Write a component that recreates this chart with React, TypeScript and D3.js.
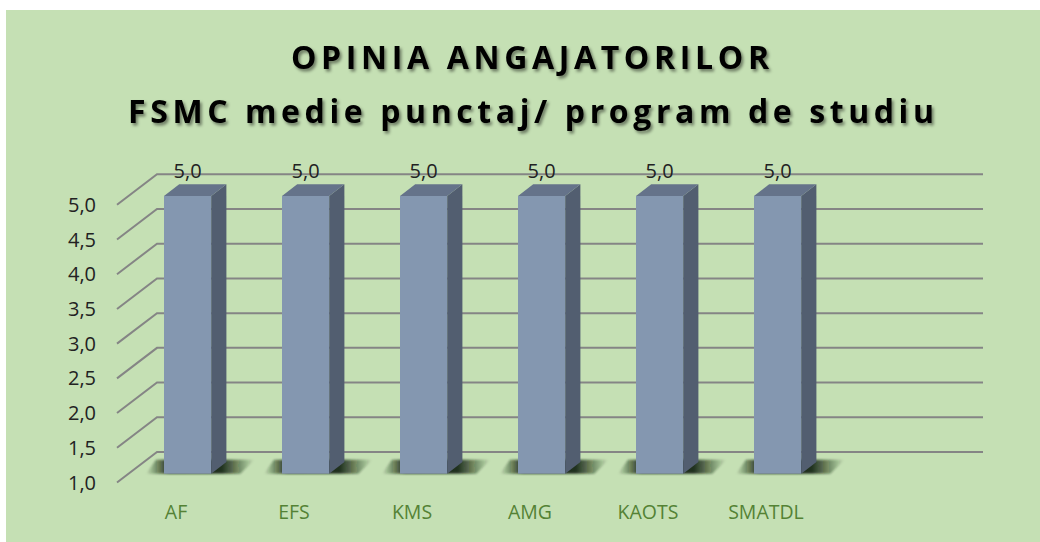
import React from 'react'
import * as d3 from 'd3'

// chart values
const categories = ['AF', 'EFS', 'KMS', 'AMG', 'KAOTS', 'SMATDL']
const scores = [5.0, 5.0, 5.0, 5.0, 5.0, 5.0]
const yTicks = [1.0, 1.5, 2.0, 2.5, 3.0, 3.5, 4.0, 4.5, 5.0]
const titleLines = ['OPINIA ANGAJATORILOR', 'FSMC medie punctaj/ program de studiu']

const W = 1040
const H = 542

// 3d look: the back wall, and how far the front edge of the floor is shifted
const depthX = -40
const depthY = 30.5
const barFront = 0.71 // depth of the bar front face (0 = back wall, 1 = front edge)
const barBack = 0.33

const roLocale = d3.formatLocale({ decimal: ',', thousands: '.', grouping: [3], currency: ['', ' lei'] })
const fmt = roLocale.format('.1f')

export default function App() {
  // the source axis keeps an empty 7th slot on the right
  const slots = [...categories, '']
  const x = d3.scaleBand<string>().domain(slots).range([157, 983]).paddingInner(0).paddingOuter(0)
  const y = d3.scaleLinear().domain([1, 5]).range([452, 174.3])

  const barW = x.step() * 0.4
  const sideDx = (barFront - barBack) * -depthX
  const sideDy = (barFront - barBack) * depthY

  const bars = categories.map((c, i) => {
    const cx = x(c)! + x.bandwidth() / 2
    const fx = cx - barW / 2 + barFront * depthX
    const ftop = y(scores[i]) + barFront * depthY
    const fbot = y(1) + barFront * depthY
    return { c, v: scores[i], cx, fx, ftop, fbot }
  })

  return (
    <div style={{ position: 'absolute', left: 0, top: 0 }}>
      <svg width={W} height={H} style={{ display: 'block', background: '#ffffff' }}>
        <defs>
          <filter id="titleShadow" x="-10%" y="-30%" width="120%" height="160%">
            <feDropShadow dx="2" dy="2.5" stdDeviation="1.6" floodColor="#000" floodOpacity="0.45" />
          </filter>
          <filter id="blur" x="-20%" y="-50%" width="140%" height="200%">
            <feGaussianBlur stdDeviation="1.3" />
          </filter>
          <linearGradient id="floorShadow" x1="0" x2="1" y1="0" y2="0">
            <stop offset="0" stopColor="#0f1f0b" stopOpacity="0" />
            <stop offset="0.22" stopColor="#0f1f0b" stopOpacity="0.95" />
            <stop offset="0.7" stopColor="#0f1f0b" stopOpacity="0.9" />
            <stop offset="1" stopColor="#0f1f0b" stopOpacity="0" />
          </linearGradient>
        </defs>

        <rect x={6} y={10} width={W - 6} height={H - 10} fill="#C5E0B4" />

        {/* title */}
        <g fontFamily="'Open Sans', 'DejaVu Sans', sans-serif" fontWeight="bold" fontSize={32} fill="#000" filter="url(#titleShadow)">
          <text x={530} y={69} textAnchor="middle" textLength={478} lengthAdjust="spacing">{titleLines[0]}</text>
          <text x={531} y={123} textAnchor="middle" textLength={806} lengthAdjust="spacing">{titleLines[1]}</text>
        </g>

        {/* grid: back wall lines + left wall diagonals */}
        <g stroke="#858585" strokeWidth={2} fill="none">
          {yTicks.map(t => (
            <path key={t} d={`M${157 + depthX},${y(t) + depthY}L157,${y(t)}L983,${y(t)}`} />
          ))}
        </g>

        {/* y tick labels */}
        <g fontFamily="'Open Sans', sans-serif" fontSize={20} fill="#222" textAnchor="end">
          {yTicks.map(t => (
            <text key={t} x={157 + depthX - 21} y={y(t) + depthY + 7}>{fmt(t)}</text>
          ))}
        </g>

        {/* floor shadows */}
        {bars.map(b => {
          const r = b.fx + barW + sideDx
          const pts = [
            [b.fx - 18, b.fbot],
            [b.fx - 8, b.fbot - 14],
            [r + 28, b.fbot - 14],
            [r + 14, b.fbot],
          ]
          return <polygon key={'s' + b.c} points={pts.map(p => p.join(',')).join(' ')} fill="url(#floorShadow)" filter="url(#blur)" />
        })}

        {/* bars */}
        {bars.map(b => (
          <g key={b.c}>
            <rect x={b.fx} y={b.ftop} width={barW} height={b.fbot - b.ftop} fill="#8497B0" />
            <polygon
              points={`${b.fx + barW},${b.ftop} ${b.fx + barW + sideDx},${b.ftop - sideDy} ${b.fx + barW + sideDx},${b.fbot - sideDy} ${b.fx + barW},${b.fbot}`}
              fill="#525E70"
            />
            <polygon
              points={`${b.fx},${b.ftop} ${b.fx + sideDx},${b.ftop - sideDy} ${b.fx + barW + sideDx},${b.ftop - sideDy} ${b.fx + barW},${b.ftop}`}
              fill="#65738A"
            />
          </g>
        ))}

        {/* value labels */}
        <g fontFamily="'Open Sans', sans-serif" fontSize={20} fill="#222" textAnchor="middle">
          {bars.map(b => (
            <text key={'v' + b.c} x={b.fx + barW / 2} y={b.ftop - sideDy - 6}>{fmt(b.v)}</text>
          ))}
        </g>

        {/* category labels on the front edge */}
        <g fontFamily="'Open Sans', sans-serif" fontSize={19.5} fill="#548235" textAnchor="middle">
          {bars.map(b => (
            <text key={'c' + b.c} x={b.cx + depthX} y={519}>{b.c}</text>
          ))}
        </g>
      </svg>
    </div>
  )
}
